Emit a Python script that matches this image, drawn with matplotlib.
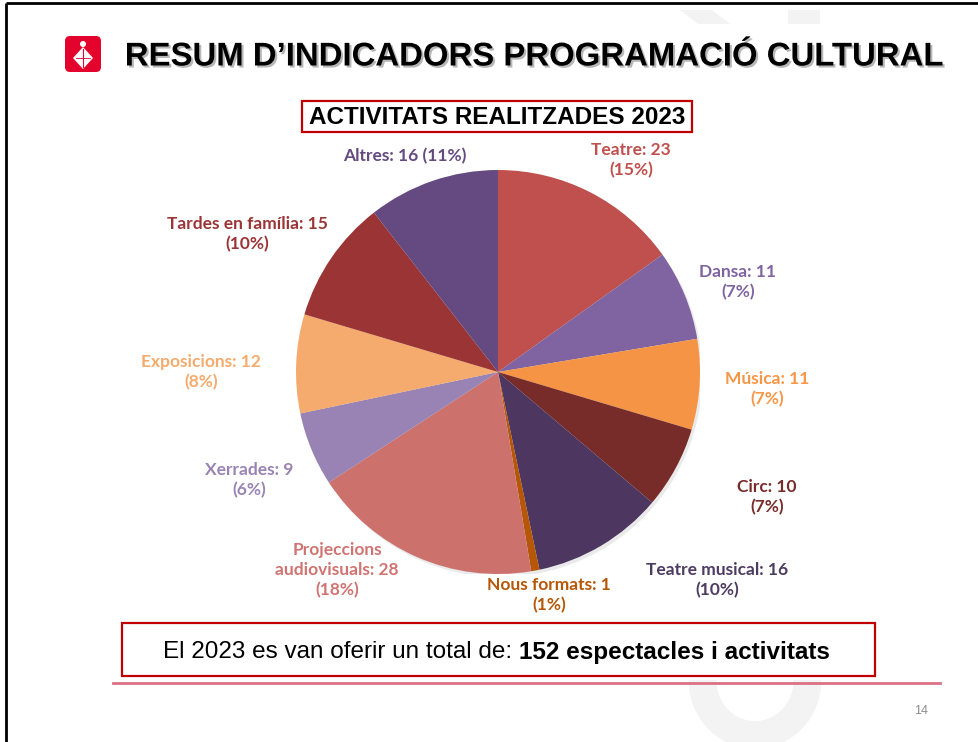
import matplotlib
matplotlib.use('Agg')
import matplotlib.pyplot as plt
import matplotlib.patheffects as pe
from matplotlib.patches import FancyBboxPatch, Rectangle, Polygon, Arc, Circle

# data
categories = ['Teatre', 'Dansa', 'Música', 'Circ', 'Teatre musical', 'Nous formats',
              'Projeccions audiovisuals', 'Xerrades', 'Exposicions', 'Tardes en família', 'Altres']
values = [23, 11, 11, 10, 16, 1, 28, 9, 12, 15, 16]
pct_labels = ['15%', '7%', '7%', '7%', '10%', '1%', '18%', '6%', '8%', '10%', '11%']
total = sum(values)

colors = ['#C0504D', '#8064A2', '#F59445', '#772C2A', '#4D3660', '#B65708',
          '#CD716D', '#9983B5', '#F5AB6D', '#9B3535', '#644A81']
label_colors = ['#C0504D', '#8064A2', '#F79646', '#772C2A', '#4D3B62', '#B65708',
                '#D07471', '#9983B5', '#F5AB6D', '#9B3535', '#644A81']

# label layout (pixel centres of the label block)
label_pos = [(631, 160), (738, 282), (767, 389), (767, 497), (717, 580), (549, 595),
             (337, 570), (249, 480), (201, 372), (247, 234), (405, 156)]

W, H = 979, 742
fig = plt.figure(figsize=(W / 100, H / 100), dpi=100)
bg = fig.add_axes([0, 0, 1, 1])
bg.set_xlim(0, W)
bg.set_ylim(H, 0)
bg.axis('off')

# faint watermark
bg.add_patch(Polygon([(680, 10), (712, 10), (730, 24), (698, 24)], closed=True,
                     facecolor='#F3F3F3', edgecolor='none', zorder=0))
bg.add_patch(Rectangle((788, 10), 32, 14, facecolor='#F3F3F3', edgecolor='none', zorder=0))
bg.add_patch(Arc((755, 680), 105, 110, theta1=0, theta2=180, lw=20, color='#F3F3F3', zorder=0))

# slide border
bg.plot([6, W], [3, 3], color='black', lw=2, solid_capstyle='butt')
bg.plot([6, 6], [3, H], color='black', lw=2, solid_capstyle='butt')

# logo
bg.add_patch(FancyBboxPatch((65, 36), 36, 36, boxstyle='round,pad=0,rounding_size=5',
                            facecolor='#E4032C', edgecolor='none'))
bg.add_patch(Polygon([(83, 47), (93, 58), (83, 69), (73, 58)], closed=True,
                     facecolor='white', edgecolor='none'))
bg.add_patch(Circle((83, 44), 3, facecolor='white', edgecolor='none'))
bg.plot([83, 83], [49, 67], color='#E4032C', lw=0.8)
bg.plot([76, 90], [58, 58], color='#E4032C', lw=0.6)

# title
bg.text(534, 57, 'RESUM D\u2019INDICADORS PROGRAMACIÓ CULTURAL', ha='center', va='center',
        fontsize=23.7, fontweight='bold', family='Liberation Sans', color='black',
        path_effects=[pe.SimplePatchShadow(offset=(1.5, -1.5), shadow_rgbFace='#888888', alpha=0.6),
                      pe.Normal()])

# subtitle box
bg.add_patch(Rectangle((302, 101), 390, 31, facecolor='white', edgecolor='#C00000', lw=1.6))
bg.text(497, 117, 'ACTIVITATS REALITZADES 2023', ha='center', va='center',
        fontsize=17.5, fontweight='bold', family='Liberation Sans', color='black')

# pie
r = 202
cx, cy = 498, 372
pax = fig.add_axes([(cx - r) / W, (H - cy - r) / H, 2 * r / W, 2 * r / H])
pax.add_patch(Circle((0.012, -0.015), 1.0, facecolor='#CCCCCC', edgecolor='none', alpha=0.4, zorder=0))
pax.pie(values, colors=colors, startangle=90, counterclock=False, radius=1.0,
        wedgeprops=dict(linewidth=0, edgecolor='none'))
pax.set_xlim(-1, 1)
pax.set_ylim(-1, 1)
pax.set_aspect('auto')
pax.axis('off')

# labels
for name, v, p, c, (x, y) in zip(categories, values, pct_labels, label_colors, label_pos):
    if name == 'Altres':
        txt = f'{name}: {v} ({p})'
    elif name == 'Projeccions audiovisuals':
        txt = f'Projeccions\naudiovisuals: {v}\n({p})'
    else:
        txt = f'{name}: {v}\n({p})'
    bg.text(x, y, txt, ha='center', va='center', color=c, fontsize=12.5,
            fontweight='bold', family='Lato', linespacing=1.3)

# bottom box
bg.add_patch(Rectangle((122, 623), 753, 53, facecolor='white', edgecolor='#C00000', lw=1.6))
t1 = bg.text(163, 652, 'El 2023 es van oferir un total de: ', ha='left', va='center',
             fontsize=17.5, family='Liberation Sans', color='black')
bg.annotate(f'{total} espectacles i activitats', xy=(1, 0.5), xycoords=t1, ha='left', va='center',
            fontsize=17.5, fontweight='bold', family='Liberation Sans', color='black')

# pink rule and page number
bg.plot([113, 940], [683, 683], color='#DC7085', lw=2)
bg.text(921, 711, '14', ha='center', va='center', fontsize=9, color='#8C8C8C', family='Liberation Sans')

fig.savefig('out.png', dpi=100)
